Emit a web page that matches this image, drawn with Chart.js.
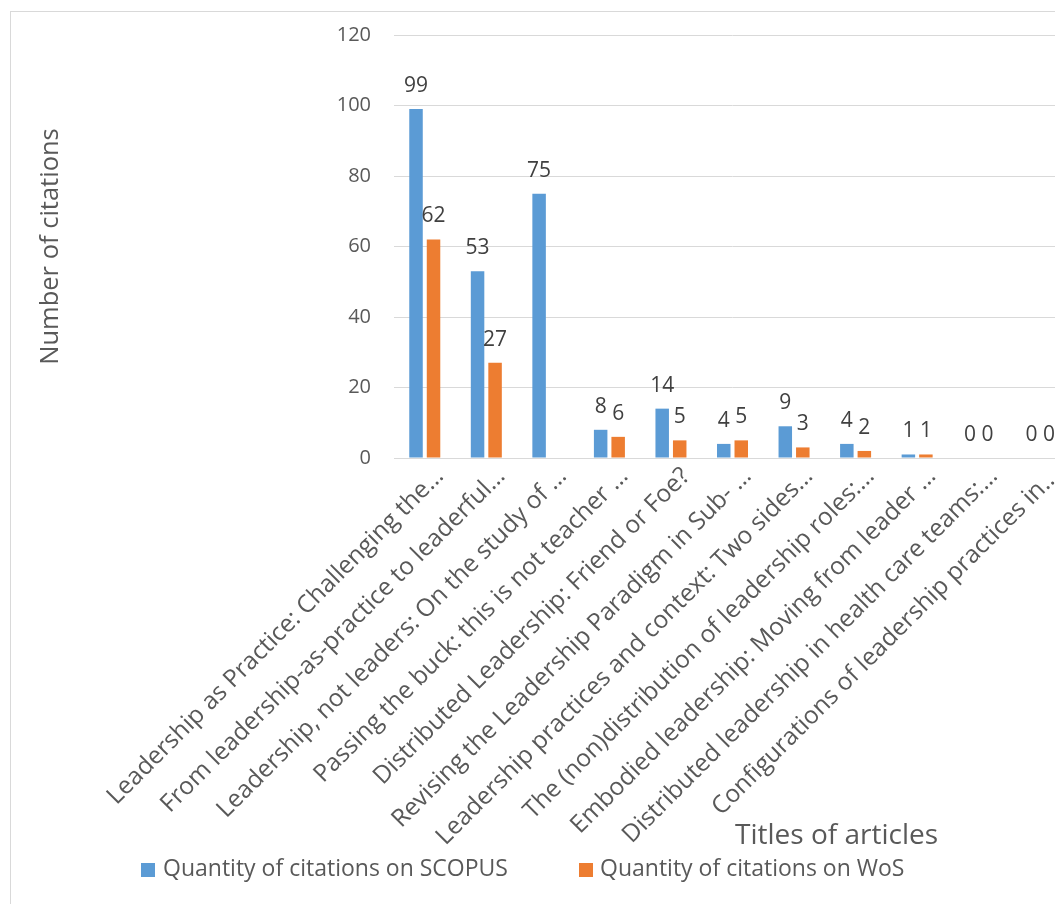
<!DOCTYPE html>
<html>
<head>
<meta charset="utf-8">
<script src="https://cdn.jsdelivr.net/npm/chart.js@4/dist/chart.umd.min.js"></script>
<style>
  html, body { margin: 0; padding: 0; background: #fff; overflow: hidden; }
  #frame { position: absolute; left: 10px; top: 11px; width: 1100px; height: 1000px; border: 1px solid #d9d9d9; }
  #wrap { position: absolute; left: 0; top: 0; width: 1071px; height: 904px; }
</style>
</head>
<body>
<div id="frame"></div>
<div id="wrap"><canvas id="myChart" width="1071" height="904"></canvas></div>
<script>
// Article titles (as shortened on the axis) and citation counts
const titles = [
  'Leadership as Practice: Challenging the…',
  'From leadership-as-practice to leaderful…',
  'Leadership, not leaders: On the study of …',
  'Passing the buck: this is not teacher …',
  'Distributed Leadership: Friend or Foe?',
  'Revising the Leadership Paradigm in Sub- …',
  'Leadership practices and context: Two sides…',
  'The (non)distribution of leadership roles:…',
  'Embodied leadership: Moving from leader …',
  'Distributed leadership in health care teams:…',
  'Configurations of leadership practices in…'
];
const scopusCitations = [99, 53, 75, 8, 14, 4, 9, 4, 1, 0, 0];
const wosCitations = [62, 27, null, 6, 5, 5, 3, 2, 1, 0, 0];
const yTicks = [0, 20, 40, 60, 80, 100, 120];

const FONT = '"Open Sans", sans-serif';
const GREY = '#595959';

// value above each bar
const valueLabels = {
  id: 'valueLabels',
  afterDatasetsDraw(chart) {
    const ctx = chart.ctx;
    ctx.save();
    ctx.font = '21px ' + FONT;
    ctx.fillStyle = '#404040';
    ctx.textAlign = 'center';
    ctx.textBaseline = 'alphabetic';
    chart.data.datasets.forEach((ds, i) => {
      chart.getDatasetMeta(i).data.forEach((bar, j) => {
        if (ds.data[j] == null) return;
        ctx.fillText(String(ds.data[j]), bar.x, bar.y - 17);
      });
    });
    ctx.restore();
  }
};

// x axis title and legend sit where the original layout put them
const extras = {
  id: 'extras',
  afterDraw(chart) {
    const ctx = chart.ctx;
    ctx.save();
    ctx.fillStyle = GREY;
    ctx.textAlign = 'left';
    ctx.textBaseline = 'alphabetic';
    ctx.font = '28px ' + FONT;
    ctx.fillText('Titles of articles', 735, 844);

    const items = [[141, 163], [579, 600]];
    ctx.font = '23px ' + FONT;
    ctx.textBaseline = 'middle';
    chart.data.datasets.forEach((ds, i) => {
      const [bx, tx] = items[i];
      ctx.fillStyle = ds.backgroundColor;
      ctx.fillRect(bx, 863, 14, 14);
      ctx.fillStyle = GREY;
      ctx.fillText(ds.label, tx, 869);
    });
    ctx.restore();
  }
};

function initChart() {
  const ctx = document.getElementById('myChart').getContext('2d');
  new Chart(ctx, {
    type: 'bar',
    data: {
      labels: titles,
      datasets: [{
        label: 'Quantity of citations on SCOPUS',
        data: scopusCitations,
        backgroundColor: '#5B9BD5',
        categoryPercentage: 0.569,
        barPercentage: 0.771,
      }, {
        label: 'Quantity of citations on WoS',
        data: wosCitations,
        backgroundColor: '#ED7D31',
        categoryPercentage: 0.569,
        barPercentage: 0.771,
      }],
    },
    options: {
      responsive: false,
      animation: false,
      layout: { padding: { top: 31, left: 0, right: 0, bottom: 0 } },
      plugins: {
        legend: { display: false },
        tooltip: { enabled: false },
      },
      scales: {
        x: {
          grid: { display: false },
          border: { display: true, color: '#d9d9d9', width: 1 },
          ticks: {
            autoSkip: false,
            maxRotation: 45,
            minRotation: 45,
            padding: -4,
            labelOffset: 15,
            color: GREY,
            font: { family: FONT, size: 24.5 },
          },
          afterFit(scale) { scale.height = 446; },
        },
        y: {
          min: 0,
          max: 120,
          afterBuildTicks(scale) { scale.ticks = yTicks.map(v => ({ value: v })); },
          grid: { color: '#d9d9d9', lineWidth: 1, drawTicks: false },
          border: { display: false },
          ticks: {
            padding: 23,
            color: GREY,
            font: { family: FONT, size: 20 },
          },
          title: {
            display: true,
            text: 'Number of citations',
            color: GREY,
            font: { family: FONT, size: 25.5, weight: 'normal' },
            padding: { top: 35, bottom: 0 },
          },
          afterFit(scale) { scale.width = 394; },
        },
      },
    },
    plugins: [valueLabels, extras],
  });
}

document.fonts.load('20px "Open Sans"').then(initChart, initChart);
</script>
</body>
</html>
